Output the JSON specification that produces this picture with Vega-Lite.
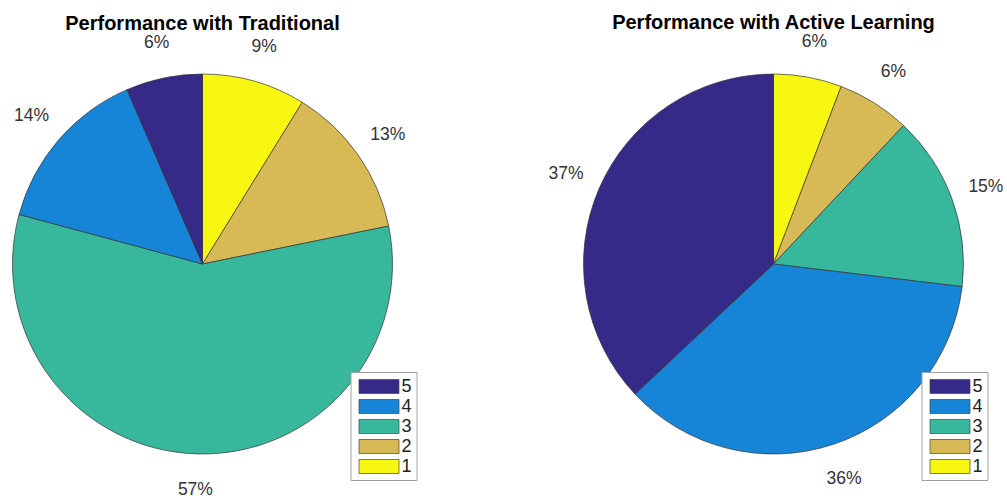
{
  "$schema": "https://vega.github.io/schema/vega-lite/v6.json",
  "background": "white",
  "padding": {"left": 10.5, "top": 12, "right": 5, "bottom": 5},
  "spacing": 191,
  "bounds": "flush",
  "config": {"view": {"stroke": null}, "font": "Liberation Sans"},
  "datasets": {
    "trad": [
      {"cat": "1", "k": 1, "pct": 8.8, "label": "9%"},
      {"cat": "2", "k": 2, "pct": 13.0, "label": "13%"},
      {"cat": "3", "k": 3, "pct": 57.4, "label": "57%"},
      {"cat": "4", "k": 4, "pct": 14.3, "label": "14%"},
      {"cat": "5", "k": 5, "pct": 6.5, "label": "6%"}
    ],
    "active": [
      {"cat": "1", "k": 1, "pct": 5.8, "label": "6%"},
      {"cat": "2", "k": 2, "pct": 6.2, "label": "6%"},
      {"cat": "3", "k": 3, "pct": 14.9, "label": "15%"},
      {"cat": "4", "k": 4, "pct": 36.1, "label": "36%"},
      {"cat": "5", "k": 5, "pct": 37.0, "label": "37%"}
    ]
  },
  "hconcat": [
    {
      "width": 380,
      "height": 380,
      "title": {"text": "Performance with Traditional", "frame": "group", "offset": 0, "fontSize": 20, "fontWeight": "bold", "color": "black", "anchor": "middle"},
      "data": {"name": "trad"},
      "encoding": {
        "theta": {"field": "pct", "type": "quantitative", "stack": true},
        "order": {"field": "k", "type": "quantitative", "sort": "ascending"}
      },
      "layer": [
        {
          "mark": {"type": "arc", "outerRadius": 190, "stroke": "#333333", "strokeWidth": 0.7},
          "encoding": {
            "color": {
              "field": "cat", "type": "nominal",
              "scale": {"domain": ["5", "4", "3", "2", "1"], "range": ["#352A87", "#1685D7", "#37B89D", "#D7BA55", "#F7F712"]},
              "legend": {"orient": "none", "legendX": 338, "legendY": 298, "title": null, "symbolType": "M-2,-0.7H2V0.7H-2Z", "symbolSize": 400, "symbolOffset": 14, "labelOffset": 12, "padding": 4, "rowPadding": 0, "strokeColor": "#a0a0a0", "fillColor": "white", "symbolStrokeColor": "#444444", "symbolStrokeWidth": 0.7, "symbolOpacity": 1, "labelFontSize": 18, "labelColor": "#222222", "cornerRadius": 0}
            }
          }
        },
        {
          "mark": {"type": "text", "radius": 226, "fontSize": 17.5, "fill": "#333333", "align": "center", "baseline": "middle"},
          "encoding": {"text": {"field": "label"}}
        }
      ]
    },
    {
      "width": 380,
      "height": 380,
      "title": {"text": "Performance with Active Learning", "frame": "group", "offset": 0, "fontSize": 20, "fontWeight": "bold", "color": "black", "anchor": "middle"},
      "data": {"name": "active"},
      "encoding": {
        "theta": {"field": "pct", "type": "quantitative", "stack": true},
        "order": {"field": "k", "type": "quantitative", "sort": "ascending"}
      },
      "layer": [
        {
          "mark": {"type": "arc", "outerRadius": 190, "stroke": "#333333", "strokeWidth": 0.7},
          "encoding": {
            "color": {
              "field": "cat", "type": "nominal",
              "scale": {"domain": ["5", "4", "3", "2", "1"], "range": ["#352A87", "#1685D7", "#37B89D", "#D7BA55", "#F7F712"]},
              "legend": {"orient": "none", "legendX": 338, "legendY": 298, "title": null, "symbolType": "M-2,-0.7H2V0.7H-2Z", "symbolSize": 400, "symbolOffset": 14, "labelOffset": 12, "padding": 4, "rowPadding": 0, "strokeColor": "#a0a0a0", "fillColor": "white", "symbolStrokeColor": "#444444", "symbolStrokeWidth": 0.7, "symbolOpacity": 1, "labelFontSize": 18, "labelColor": "#222222", "cornerRadius": 0}
            }
          }
        },
        {
          "mark": {"type": "text", "radius": 226, "fontSize": 17.5, "fill": "#333333", "align": "center", "baseline": "middle"},
          "encoding": {"text": {"field": "label"}}
        }
      ]
    }
  ],
  "resolve": {"scale": {"color": "independent"}, "legend": {"color": "independent"}}
}
